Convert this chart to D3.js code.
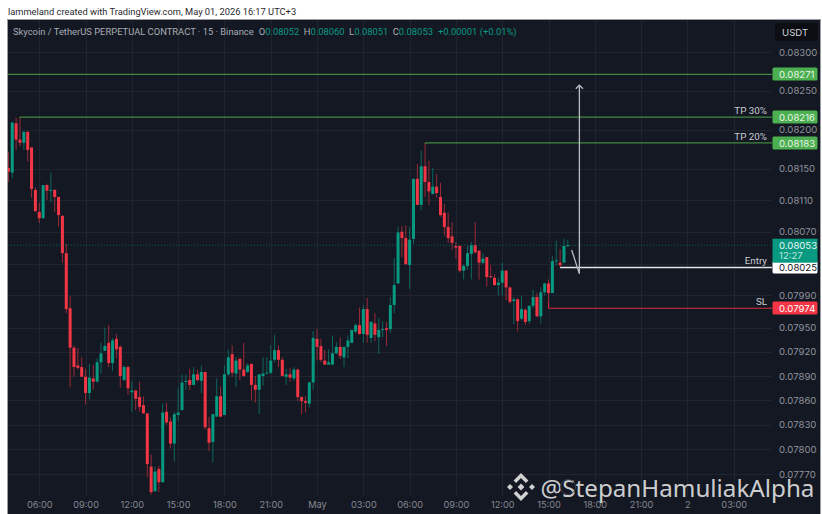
<!DOCTYPE html>
<html><head><meta charset="utf-8">
<script src="https://cdn.jsdelivr.net/npm/d3@7"></script>
<style>
html,body{margin:0;padding:0;background:#fff;overflow:hidden}
svg{display:block}
text{font-family:Inter,"Noto Sans",sans-serif}
.tick line,.domain{display:none}
</style></head><body><svg id="c" width="822" height="514"></svg>
<script>
// Prices are in units of 0.00001 USDT; one entry per 15-minute bar, first bar 04:00
const opens=[8151,8145,8208,8187,8183,8197,8177,8123,8095,8087,
8129,8122,8123,8114,8090,8043,7974,7925,7903,7901,
7889,7869,7887,7883,7907,7921,7931,7906,7936,7926,
7885,7901,7870,7872,7864,7854,7844,7779,7749,7776,
7760,7846,7834,7807,7842,7848,7883,7885,7879,7892,
7884,7895,7826,7809,7840,7865,7842,7892,7917,7893,
7911,7898,7895,7905,7879,7873,7890,7893,7894,7910,
7922,7910,7889,7892,7887,7898,7864,7859,7856,7882,
7936,7927,7909,7904,7904,7918,7926,7913,7926,7931,
7945,7953,7942,7973,7937,7955,7938,7947,7949,7948,
7978,8005,8070,8062,8028,8061,8137,8104,8153,8133,
8118,8127,8114,8094,8076,8064,8052,8052,8021,8027,
8042,8053,8046,8031,8038,8014,8012,8003,8006,8021,
8000,7983,7985,7961,7972,7958,7977,7988,7964,7994,
8005,7993,8033,8031,8031,8052];
const highs=[8171,8210,8215,8216,8198,8198,8177,8126,8107,8129,
8131,8145,8124,8114,8091,8055,7989,7928,7925,7913,
7899,7905,7904,7912,7931,7950,7953,7937,7942,7928,
7903,7903,7883,7873,7883,7865,7844,7794,7779,7780,
7856,7857,7839,7846,7876,7892,7892,7899,7901,7898,
7903,7895,7840,7843,7887,7877,7903,7923,7928,7913,
7913,7931,7906,7905,7890,7892,7913,7913,7928,7941,
7928,7913,7899,7900,7901,7899,7865,7865,7883,7946,
7948,7936,7922,7923,7940,7932,7938,7926,7940,7947,
7955,7975,7978,7987,7958,7968,7962,7958,7957,7988,
8037,8076,8077,8078,8076,8137,8156,8173,8183,8160,
8151,8143,8132,8105,8094,8082,8057,8053,8029,8052,
8057,8082,8047,8043,8038,8028,8016,8012,8031,8022,
8001,7988,7987,7989,7974,7978,7997,7993,8000,8006,
8010,8039,8059,8048,8061,8060];
const lows=[8133,8138,8174,8178,8174,8159,8113,8095,8081,8087,
8110,8107,8095,8076,8031,7968,7876,7889,7898,7889,
7855,7861,7873,7882,7893,7921,7901,7896,7912,7876,
7884,7867,7846,7848,7846,7844,7766,7745,7749,7748,
7760,7830,7801,7785,7835,7848,7873,7873,7879,7883,
7869,7824,7798,7784,7840,7839,7842,7890,7889,7876,
7885,7889,7894,7860,7857,7843,7878,7893,7892,7907,
7901,7889,7879,7883,7884,7859,7843,7845,7851,7873,
7909,7907,7904,7904,7904,7917,7911,7901,7912,7931,
7943,7941,7931,7931,7931,7933,7917,7938,7927,7943,
7968,8005,8038,8029,7998,8055,8104,8097,8114,8104,
8117,8113,8089,8065,8056,8047,8036,8019,8010,8022,
8010,8043,8010,8029,8001,8012,8002,7990,7990,7984,
7980,7954,7945,7959,7953,7955,7974,7963,7955,7990,
7974,7993,8027,8026,8031,8051];
const closes=[8146,8209,8187,8183,8197,8174,8124,8096,8087,8129,
8122,8123,8114,8091,8043,7973,7925,7901,7900,7889,
7869,7888,7883,7907,7918,7927,7906,7934,7923,7890,
7901,7875,7872,7862,7852,7844,7782,7748,7773,7760,
7845,7833,7807,7843,7845,7882,7884,7879,7892,7885,
7895,7827,7808,7843,7865,7840,7892,7913,7894,7909,
7898,7890,7903,7879,7873,7892,7893,7894,7909,7922,
7910,7890,7892,7888,7898,7864,7859,7857,7882,7937,
7926,7910,7904,7907,7918,7926,7915,7926,7934,7947,
7953,7942,7973,7941,7957,7941,7947,7948,7947,7978,
8003,8069,8062,8029,8060,8137,8104,8153,8133,8121,
8127,8119,8091,8076,8062,8056,8050,8021,8027,8043,
8053,8044,8031,8036,8013,8013,8003,8006,8021,8000,
7982,7985,7958,7973,7957,7977,7988,7964,7994,8005,
7993,8033,8034,8028,8052,8053];

const priceTicks=[8300,8250,8200,8150,8110,8070,8030,7990,7950,7920,7890,7860,7830,7800,7770];
const timeBars=[8,20,32,44,56,68,80,92,104,116,128,140,152,164,176,188];
const timeLabels=["06:00","09:00","12:00","15:00","18:00","21:00","May","03:00","06:00","09:00","12:00","15:00","18:00","21:00","2","03:00"];

const levelPrices=[8271,8216,8183,8025,7974];
const levelStartBars=[-3,3,108,143,140];
const levelNames=["","TP 30%","TP 20%","Entry","SL"];
const levelKinds=["tp","tp","tp","entry","sl"];
const lastPrice=8053, lastCountdown="12:27";
const arrowBar=148, arrowTop=8257, arrowBottom=8017, arrowTailBar=146, arrowTailPrice=8047;

const header="lammeland created with TradingView.com, May 01, 2026 16:17 UTC+3";
const title="Skycoin / TetherUS PERPETUAL CONTRACT · 15 · Binance";
const ohlcKeys=["O","H","L","C"], ohlcVals=["0.08052","0.08060","0.08051","0.08053"], ohlcChange="+0.00001 (+0.01%)";
const watermark="@StepanHamuliakAlpha";

const GREEN="#089981",RED="#f23645",TP="#4caf50";
const kindFill={tp:TP,entry:"#ffffff",sl:RED};
const kindText={tp:"#e8f5e9",entry:"#131722",sl:"#ffffff"};
const kindLine={tp:"#42883f",entry:"#e4e4e6",sl:"#d32f3f"};

const fmt=v=>(v/1e5).toFixed(5);
const svg=d3.select("#c");
const L=8,R=820,T=20,B=514,PANE=772;
const x=d3.scaleLinear().domain([0,198]).range([8.4,8.4+198*3.858]);
const y=d3.scaleLog().domain([8300,7770]).range([52,474]);

svg.append("rect").attr("width",822).attr("height",514).attr("fill","#fff");
svg.append("rect").attr("x",L-1).attr("y",T-1).attr("width",R-L+2).attr("height",B-T+2).attr("fill","#9a9ca3");
svg.append("rect").attr("x",L).attr("y",T).attr("width",R-L).attr("height",B-T).attr("fill","#141823");
svg.append("text").attr("x",8).attr("y",15).attr("font-size",9.3).attr("fill","#2a2a2e").style("font-family","Roboto").text(header);

svg.append("defs").append("clipPath").attr("id","pane").append("rect")
 .attr("x",L).attr("y",T).attr("width",PANE-L).attr("height",B-T-18);
const pane=svg.append("g").attr("clip-path","url(#pane)");

// grid
pane.selectAll(".gh").data(priceTicks).join("line").attr("x1",L).attr("x2",PANE)
 .attr("y1",d=>Math.round(y(d))+.5).attr("y2",d=>Math.round(y(d))+.5).attr("stroke","#20242f");
pane.selectAll(".gv").data(timeBars).join("line").attr("y1",T).attr("y2",B)
 .attr("x1",d=>Math.round(x(d))+.5).attr("x2",d=>Math.round(x(d))+.5).attr("stroke","#20242f");

// candles
const bars=d3.range(opens.length);
const col=i=>closes[i]>=opens[i]?GREEN:RED;
pane.selectAll(".w").data(bars).join("line")
 .attr("x1",i=>x(i)).attr("x2",i=>x(i)).attr("y1",i=>y(highs[i])).attr("y2",i=>y(lows[i]))
 .attr("stroke",col).attr("stroke-opacity",.6).attr("stroke-width",1);
pane.selectAll(".b").data(bars).join("rect")
 .attr("x",i=>x(i)-1.5).attr("width",3)
 .attr("y",i=>y(Math.max(opens[i],closes[i])))
 .attr("height",i=>Math.max(1,Math.abs(y(opens[i])-y(closes[i]))))
 .attr("fill",col);

// last price line
pane.append("line").attr("x1",L).attr("x2",PANE).attr("y1",y(lastPrice)).attr("y2",y(lastPrice))
 .attr("stroke",GREEN).attr("stroke-opacity",.6).attr("stroke-dasharray","1 2");

// levels
levelPrices.forEach((p,i)=>{
 const ly=y(p);
 pane.append("line").attr("x1",x(levelStartBars[i])).attr("x2",PANE).attr("y1",ly).attr("y2",ly)
  .attr("stroke",kindLine[levelKinds[i]]).attr("stroke-width",levelKinds[i]=="entry"?1.4:1.2);
 if(levelKinds[i]!="entry"&&i>0) pane.append("line").attr("x1",x(levelStartBars[i])).attr("x2",x(levelStartBars[i]))
  .attr("y1",ly).attr("y2",ly+(levelKinds[i]=="sl"?-6:1)).attr("stroke",kindLine[levelKinds[i]]);
 if(levelNames[i]) svg.append("text").attr("x",767).attr("y",ly-3).attr("text-anchor","end")
  .attr("font-size",9.8).attr("fill","#c9cbd0").style("font-family","Roboto").text(levelNames[i]);
});

// arrow
const ax=x(arrowBar),aTop=y(arrowTop),aBot=y(arrowBottom);
const arrow=pane.append("g").attr("fill","none").attr("stroke","#b9bcc2").attr("stroke-width",1.3);
arrow.append("path").attr("d",d3.line()([[x(arrowTailBar),y(arrowTailPrice)],[ax,aBot],[ax,aTop]]));
arrow.append("path").attr("d",d3.line()([[ax-3.6,aTop+3.6],[ax,aTop],[ax+3.6,aTop+3.6]]));

// axes
const yAxis=d3.axisRight(y).tickValues(priceTicks.filter(d=>d!=8030)).tickSize(0).tickPadding(7).tickFormat(fmt);
const yg=svg.append("g").attr("transform",`translate(${PANE},0)`).call(yAxis);
yg.selectAll("text").attr("fill","#8f929a").attr("font-size",9.6).style("font-family","Inter");
const xAxis=d3.axisBottom(x).tickValues(timeBars).tickSize(0).tickPadding(0).tickFormat(d=>timeLabels[timeBars.indexOf(d)]);
const xg=svg.append("g").attr("transform",`translate(0,501)`).call(xAxis);
xg.selectAll("text").attr("fill","#858892").attr("font-size",9.2).style("font-family","Inter");

// price labels
levelPrices.forEach((p,i)=>{
 const ly=Math.round(y(p));
 const k=levelKinds[i];
 svg.append("rect").attr("x",PANE+.5).attr("y",ly-6.5).attr("width",45).attr("height",13).attr("rx",1.5).attr("fill",kindFill[k]);
 svg.append("text").attr("x",779).attr("y",ly+3.5).attr("font-size",9.6).attr("fill",kindText[k]).text(fmt(p));
});
const ly0=y(lastPrice);
svg.append("rect").attr("x",PANE+.5).attr("y",ly0-6.5).attr("width",45).attr("height",24).attr("fill",GREEN);
svg.append("text").attr("x",779).attr("y",ly0+3.5).attr("font-size",9.6).attr("fill","#e8f5f2").text(fmt(lastPrice));
svg.append("text").attr("x",779).attr("y",ly0+13.5).attr("font-size",9.6).attr("fill","#bfe6de").text(lastCountdown);

// USDT chip
svg.append("rect").attr("x",775).attr("y",23).attr("width",43).attr("height",18).attr("rx",3).attr("fill","#0c0e14");
svg.append("text").attr("x",782).attr("y",35.5).attr("font-size",9.6).attr("fill","#d1d4dc").text("USDT");

// legend
const leg=svg.append("text").attr("x",13).attr("y",34.5).attr("font-size",9.4).attr("fill","#a9acb4").style("font-family","Roboto");
leg.append("tspan").text(title);
ohlcKeys.forEach((k,i)=>{
 leg.append("tspan").attr("fill","#a9acb4").attr("dx",i?4.5:5).text(k);
 leg.append("tspan").attr("fill",GREEN).text(ohlcVals[i]);
});
leg.append("tspan").attr("fill",GREEN).attr("dx",5).text(ohlcChange);

// watermark
const wm=svg.append("g").attr("fill","#e6e6e6").attr("fill-opacity",.9);
const lg=wm.append("g").attr("transform","translate(521,487)");
[[0,0,3.4],[-11,0,3],[11,0,3]].forEach(d=>lg.append("path")
 .attr("d",`M${d[0]-d[2]} ${d[1]}L${d[0]} ${d[1]-d[2]}L${d[0]+d[2]} ${d[1]}L${d[0]} ${d[1]+d[2]}Z`));
[-1,1].forEach(s=>lg.append("path").attr("d",`M0 ${s*14}L${-7.4} ${s*6.6}L${-4.9} ${s*4.1}L0 ${s*9}L4.9 ${s*4.1}L7.4 ${s*6.6}Z`));
wm.append("text").attr("x",540.5).attr("y",497).attr("font-size",24.2).style("font-family","'Noto Sans'").text(watermark);
svg.append("circle").attr("cx",568).attr("cy",487).attr("r",7.5).attr("fill","none").attr("stroke","#3a3d45").attr("stroke-width",1);
</script></body></html>
